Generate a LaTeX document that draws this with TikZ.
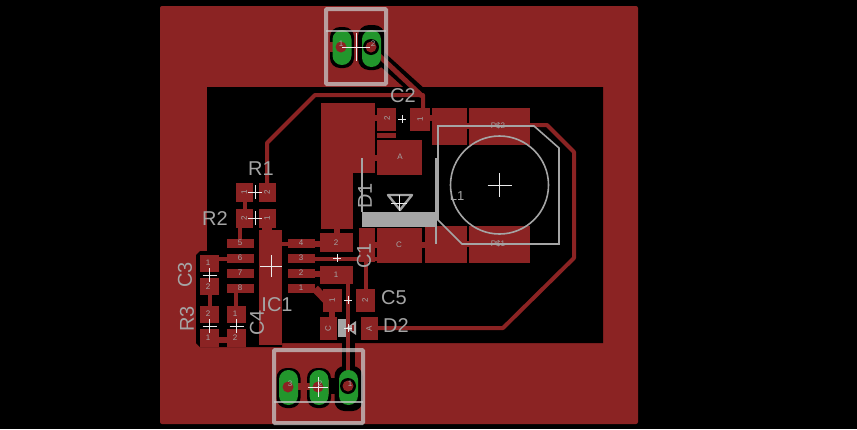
\documentclass[tikz,border=0pt]{standalone}
\usepackage{fontspec}
\setmainfont{Liberation Sans}
\usetikzlibrary{calc}
\definecolor{cu}{RGB}{139,35,35}
\definecolor{silk}{RGB}{165,165,165}
\definecolor{framegrey}{RGB}{200,200,200}
\definecolor{via}{RGB}{34,150,44}
\tikzset{
    trace/.style={draw=cu, line width=4pt},
    halo/.style={draw=black, line width=13pt},
    pad/.style={fill=cu, draw=none},
    outline/.style={draw=silk, line width=1.6pt},
    frame/.style={draw=framegrey, line width=4pt, opacity=0.75, rounded corners=1pt},
    padtext/.style={text=silk, font=\fontsize{8}{8}\selectfont, inner sep=0pt},
    partname/.style={text=silk, font=\fontsize{20}{20}\selectfont, inner sep=0pt},
    crossmark/.style={draw=white!85!gray, line width=0.9pt}
}
\newcommand{\originmark}[3]{\draw[crossmark] (#1-#3,#2) -- (#1+#3,#2) (#1,#2-#3) -- (#1,#2+#3);}
\begin{document}
\begin{tikzpicture}[x=1pt,y=-1pt]
\useasboundingbox (0,0) rectangle (857,429);
\clip (0,0) rectangle (857,429);
\fill[black] (0,0) rectangle (857,429);

% Copper pour and the cut-out
\fill[cu, rounded corners=2pt] (160,6) rectangle (638,424);
\fill[black] (207,87) -- (603,87) -- (603,343) -- (282,343) -- (282,347) -- (200,347)
    -- (196,343) -- (196,255) -- (200,251) -- (207,251) -- cycle;

% Isolation round the pads of the connectors
\fill[black, rounded corners=10pt] (330,27) rectangle (354,68);
\fill[black, rounded corners=11pt] (358,25) rectangle (385,70);
\foreach \x/\w/\ya/\yb in {288.5/12/368/408, 319/12/368/408, 348.5/14/366/411} {
    \fill[black, rounded corners=10pt] (\x-\w,\ya) rectangle (\x+\w,\yb);
}
\fill[cu] (325,380) rectangle (331,394);
\fill[cu] (297,383) rectangle (311,390);
\fill[cu] (325,42) rectangle (334,52);
\fill[black] (329,378) rectangle (337,394);
\draw[halo, line cap=butt] (372,50) -- (423,96);
\fill[black] (342,343) rectangle (355,372);

% Traces
\draw[trace, line join=round] (267,184) -- (267,143) -- (315,95) -- (423,95) -- (423,110);
\draw[trace, line width=5pt] (372,49) -- (422,96);
\draw[trace, line join=round] (378,328) -- (503,328) -- (574,258) -- (574,152) -- (547,125) -- (530,125);
\draw[trace] (348,280) -- (348,375);
\draw[trace] (366,258) -- (366,290);
\draw[trace] (315,258.5) -- (377,258.5);
\draw[trace] (282,243.5) -- (288,243.5);
\draw[trace, line width=6pt] (315,273.5) -- (322,273.5);
\draw[trace, line width=8pt] (315,288.5) -- (326,300);
\draw[trace, line width=6pt] (315,243.5) -- (322,243.5);
\draw[trace] (244.5,200) -- (244.5,210);
\draw[trace] (240,226) -- (240,240);
\draw[trace, line width=10pt] (267,226) -- (267,234);
\draw[trace] (209.5,294) -- (209.5,307);
\draw[trace] (236,292) -- (236,307);
\draw[trace] (217,258.5) -- (228,258.5);
\draw[trace, line width=6pt] (332,311) -- (332,318);
\draw[trace, line width=6pt] (336.5,228) -- (336.5,235);
\draw[trace, line width=6pt] (372,118) -- (378,118);
\draw[trace, line width=6pt] (372,158) -- (378,158);
\draw[trace, line width=6pt] (429,118) -- (433,118);
\draw[trace, line width=6pt] (374,245) -- (378,245);
\draw[trace, line width=6pt] (421,245) -- (426,245);
\draw[trace, line width=6pt] (466,126) -- (470,126);
\draw[trace, line width=6pt] (466,244) -- (470,244);
\draw[trace, line width=6pt] (219,340) -- (227,340);

% Pads, given by their corners
\foreach \xa/\ya/\xb/\yb in {
    321/103/375/173, 321/173/353/229, 359/228/375/262, 377/133/396/138,
    377/108/396/131, 410/108/430/131, 432/108/467/145, 469/108/530/145,
    425/226/467/263, 469/226/530/263, 377/140/422/175, 377/228/422/263,
    236/183/253/202, 259/183/276/202, 236/209/253/228, 259/209/276/228,
    227/239/254/248, 227/254/254/263, 227/269/254/278, 227/284/254/293,
    288/239/315/248, 288/254/315/263, 288/269/315/278, 288/284/315/293,
    259/230/282/345, 320/233/353/252, 320/266/353/284,
    323/289/342/312, 356/289/375/312, 320/317/337/340, 361/317/378/340,
    200/255/219/272, 200/278/219/295, 200/306/219/323, 200/329/219/347,
    227/306/246/323, 227/329/246/347} {
    \fill[pad] (\xa,\ya) rectangle (\xb,\yb);
}

% Through-hole pads
\foreach \x/\ya/\yb in {342/30/65, 371.5/30/67, 288.5/370/405, 319/370/405, 348.5/370/405} {
    \fill[via, rounded corners=9.4pt] (\x-9.5,\ya) rectangle (\x+9.5,\yb);
}
\fill[black] (348,386) circle (8pt);
\fill[black] (371,47) circle (8pt);
\foreach \x/\y in {341/47, 371/47, 288/387, 318/387, 348/386} {
    \fill[cu] (\x,\y) circle (5.5pt);
}

% Outlines on top of the copper
\draw[frame] (326,9) rectangle (386,84);
\draw[frame, line width=2.6pt] (326,31) -- (386,31);
\draw[frame] (274,350) rectangle (363,423);
\draw[frame, line width=2.6pt] (274,402) -- (363,402);
\draw[outline] (438,126) -- (534,126) -- (559,148) -- (559,244) -- (462,244) -- (438,220) -- cycle;
\draw[outline] (499.5,185) circle (49pt);
\fill[silk] (362,212) rectangle (436,227);
\draw[outline] (362,158) -- (362,212) (436,158) -- (436,244);
\draw[outline, line width=2.4pt, line join=round] (388,195) -- (412,195) -- (400,210) -- cycle;
\fill[silk] (338,319) rectangle (346,337);
\fill[silk] (346,328) -- (356,321) -- (356,335) -- cycle;
\fill[cu] (352,325) rectangle (354,331);

\originmark{356}{47}{14}
\originmark{499.5}{185}{12}
\originmark{399}{203}{8}
\originmark{402}{119}{4}
\originmark{255}{192}{7}
\originmark{255}{218}{7}
\originmark{271}{266}{11}
\originmark{337}{258}{4}
\originmark{348}{300}{4}
\originmark{348}{328}{4}
\originmark{209.5}{275}{7}
\originmark{209.5}{326}{7}
\originmark{236.5}{326}{7}
\originmark{318}{387}{10}

% Pad numbers
\foreach \n/\x/\y/\r in {
    2/387/118/90, 1/420/119/90, A/400/157/0, C/399/245/0,
    1/244/192/90, 2/267/192/90, 2/244/218/90, 1/267/218/90,
    5/240/243/0, 6/240/258/0, 7/240/273/0, 8/240/288/0,
    4/301/243/0, 3/301/258/0, 2/301/273/0, 1/301/288/0,
    2/336/243/0, 1/336/275/0, 1/332/300/90, 2/365/300/90,
    C/328/329/90, A/369/329/90,
    1/208/263/0, 2/208/287/0, 2/208/314/0, 1/208/338/0,
    1/235/314/0, 2/235/338/0, 1/341/44/0, 2/373/44/0,
    3/290/384/0, 2/320/384/0, 1/350/384/0} {
    \node[padtext, rotate=\r] (num\x-\y) at (\x,\y) {\n};
}
\node[padtext] (pone) at (498,244) {P\$1};
\node[padtext] (ptwo) at (498,126) {P\$2};

% Part names
\node[partname] (rone) at (261,169) {R1};
\node[partname] (rtwo) at (215,219) {R2};
\node[partname, rotate=90] (cthree) at (185,275) {C3};
\node[partname, rotate=90] (rthree) at (187,319) {R3};
\node[partname, rotate=90] (cfour) at (257,323) {C4};
\node[partname] (icone) at (277,305) {IC1};
\node[partname, rotate=90] (cone) at (364,256) {C1};
\node[partname, rotate=90] (done) at (365,196) {D1};
\node[partname] (ctwo) at (403,96) {C2};
\node[partname] (cfive) at (394,298) {C5};
\node[partname] (dtwo) at (396,326) {D2};
\node[partname] (xone) at (336,-6) {X1};
\node[padtext, font=\fontsize{13}{13}\selectfont] (lone) at (457,196) {L1};
\end{tikzpicture}
\end{document}
